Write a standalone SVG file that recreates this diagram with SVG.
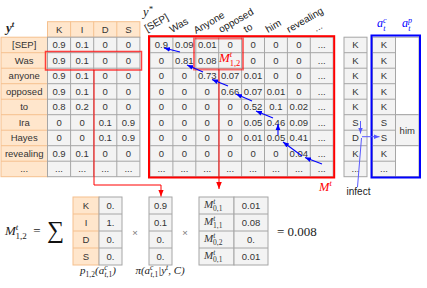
<svg xmlns="http://www.w3.org/2000/svg" width="427" height="288" viewBox="0 0 427 288">
<style>
.o{fill:#ffe6cc;stroke:#f5c08e;stroke-width:1}
.ol{fill:none;stroke:#f5c08e;stroke-width:1}
.g{fill:#f3f3f3;stroke:#a6a6a6;stroke-width:1}
.gl{fill:none;stroke:#a6a6a6;stroke-width:1}
.w{fill:#ffffff;stroke:#a6a6a6;stroke-width:1}
.t{font-family:"Liberation Sans",Arial,sans-serif;font-size:9.5px;fill:#333;text-anchor:middle}
.l{font-family:"Liberation Sans",Arial,sans-serif;font-size:10px;fill:#222}
.m{font-family:"Liberation Serif","Times New Roman",serif;font-style:italic;fill:#222}
.u{font-style:normal}
.rc{fill:none;stroke:#ff0000;stroke-width:1}
.bc{fill:none;stroke:#0000ff;stroke-width:1.1;marker-end:url(#ab)}
.lc{fill:none;stroke:#5a5aff;stroke-width:1}
</style>
<defs>
<marker id="ar" viewBox="0 0 10 10" refX="10" refY="5" markerWidth="7" markerHeight="7" markerUnits="userSpaceOnUse" orient="auto"><path d="M0,1L10,5L0,9z" fill="#ff0000"/></marker>
<marker id="ab" viewBox="0 0 10 10" refX="10" refY="5" markerWidth="6" markerHeight="6" markerUnits="userSpaceOnUse" orient="auto"><path d="M0,1L10,5L0,9z" fill="#0000ff"/></marker>
<marker id="al" viewBox="0 0 10 10" refX="10" refY="5" markerWidth="6" markerHeight="6" markerUnits="userSpaceOnUse" orient="auto"><path d="M0,1L10,5L0,9z" fill="#5a5aff"/></marker>
</defs>

<g id="yt-table">
<text class="m" x="6" y="32" font-size="13" font-weight="bold">y<tspan font-size="8.5" dy="-5">t</tspan></text>
<rect class="o" x="1" y="37.2" width="46.5" height="139.5"/>
<path class="ol" d="M1 52.7H47.5M1 68.2H47.5M1 83.7H47.5M1 99.2H47.5M1 114.7H47.5M1 130.2H47.5M1 145.7H47.5M1 161.2H47.5"/>
<rect class="o" x="47.5" y="21.7" width="92.4" height="15.5"/>
<path class="ol" d="M70.6 21.7V37.2M93.7 21.7V37.2M116.8 21.7V37.2"/>
<rect class="g" x="47.5" y="37.2" width="92.4" height="139.5"/>
<path class="gl" d="M47.5 52.7H139.9M47.5 68.2H139.9M47.5 83.7H139.9M47.5 99.2H139.9M47.5 114.7H139.9M47.5 130.2H139.9M47.5 145.7H139.9M47.5 161.2H139.9M70.6 37.2V176.7M93.7 37.2V176.7M116.8 37.2V176.7"/>
<text class="t" y="32.9" font-size="10"><tspan x="59.05">K</tspan><tspan x="82.15">I</tspan><tspan x="105.25">D</tspan><tspan x="128.35">S</tspan></text>
<text class="t" x="24.2" font-size="10"><tspan x="24.2" y="48.4">[SEP]</tspan><tspan x="24.2" y="63.9">Was</tspan><tspan x="24.2" y="79.4">anyone</tspan><tspan x="24.2" y="94.9">opposed</tspan><tspan x="24.2" y="110.4">to</tspan><tspan x="24.2" y="125.9">Ira</tspan><tspan x="24.2" y="141.4">Hayes</tspan><tspan x="24.2" y="156.9">revealing</tspan><tspan x="24.2" y="172.4">...</tspan></text>
<text class="t" y="48.4"><tspan x="59.05">0.9</tspan><tspan x="82.15">0.1</tspan><tspan x="105.25">0</tspan><tspan x="128.35">0</tspan></text>
<text class="t" y="63.9"><tspan x="59.05">0.9</tspan><tspan x="82.15">0.1</tspan><tspan x="105.25">0</tspan><tspan x="128.35">0</tspan></text>
<text class="t" y="79.4"><tspan x="59.05">0.9</tspan><tspan x="82.15">0.1</tspan><tspan x="105.25">0</tspan><tspan x="128.35">0</tspan></text>
<text class="t" y="94.9"><tspan x="59.05">0.9</tspan><tspan x="82.15">0.1</tspan><tspan x="105.25">0</tspan><tspan x="128.35">0</tspan></text>
<text class="t" y="110.4"><tspan x="59.05">0.8</tspan><tspan x="82.15">0.2</tspan><tspan x="105.25">0</tspan><tspan x="128.35">0</tspan></text>
<text class="t" y="125.9"><tspan x="59.05">0</tspan><tspan x="82.15">0</tspan><tspan x="105.25">0.1</tspan><tspan x="128.35">0.9</tspan></text>
<text class="t" y="141.4"><tspan x="59.05">0</tspan><tspan x="82.15">0</tspan><tspan x="105.25">0.1</tspan><tspan x="128.35">0.9</tspan></text>
<text class="t" y="156.9"><tspan x="59.05">0.9</tspan><tspan x="82.15">0.1</tspan><tspan x="105.25">0</tspan><tspan x="128.35">0</tspan></text>
<text class="t" y="172.4"><tspan x="59.05">...</tspan><tspan x="82.15">...</tspan><tspan x="105.25">...</tspan><tspan x="128.35">...</tspan></text>
<rect x="45.5" y="51.5" width="96" height="18.5" fill="none" stroke="#ff2020" stroke-width="1.5" opacity="0.85"/>
</g>

<g id="mt-matrix">
<text class="m" x="143" y="16" font-size="12.5">y<tspan font-size="8.5" dy="-4.5">*</tspan></text>
<g class="l">
<text transform="translate(147,32) rotate(-30)">[SEP]</text>
<text transform="translate(172,33) rotate(-30)">Was</text>
<text transform="translate(196,34) rotate(-30)">Anyone</text>
<text transform="translate(221,33) rotate(-30)">opposed</text>
<text transform="translate(246,33) rotate(-30)">to</text>
<text transform="translate(268,33) rotate(-30)">him</text>
<text transform="translate(289,33) rotate(-30)">revealing</text>
<text transform="translate(316,32) rotate(-30)">...</text>
</g>
<rect class="g" x="150" y="37.2" width="183.2" height="139.5"/>
<path class="gl" d="M150 52.7H333.2M150 68.2H333.2M150 83.7H333.2M150 99.2H333.2M150 114.7H333.2M150 130.2H333.2M150 145.7H333.2M150 161.2H333.2M172.9 37.2V176.7M195.8 37.2V176.7M218.7 37.2V176.7M241.6 37.2V176.7M264.5 37.2V176.7M287.4 37.2V176.7M310.3 37.2V176.7"/>
<text class="t" y="48.4"><tspan x="161.45">0.9</tspan><tspan x="184.35">0.09</tspan><tspan x="207.25">0.01</tspan><tspan x="230.15">0</tspan><tspan x="253.05">0</tspan><tspan x="275.95">0</tspan><tspan x="298.85">0</tspan><tspan x="321.75">...</tspan></text>
<text class="t" y="63.9"><tspan x="161.45">0</tspan><tspan x="184.35">0.81</tspan><tspan x="207.25">0.08</tspan><tspan x="253.05">0</tspan><tspan x="275.95">0</tspan><tspan x="298.85">0</tspan><tspan x="321.75">...</tspan></text>
<text class="t" y="79.4"><tspan x="161.45">0</tspan><tspan x="184.35">0</tspan><tspan x="207.25">0.73</tspan><tspan x="230.15">0.07</tspan><tspan x="253.05">0.01</tspan><tspan x="275.95">0</tspan><tspan x="298.85">0</tspan><tspan x="321.75">...</tspan></text>
<text class="t" y="94.9"><tspan x="161.45">0</tspan><tspan x="184.35">0</tspan><tspan x="207.25">0</tspan><tspan x="230.15">0.66</tspan><tspan x="253.05">0.07</tspan><tspan x="275.95">0.01</tspan><tspan x="298.85">0</tspan><tspan x="321.75">...</tspan></text>
<text class="t" y="110.4"><tspan x="161.45">0</tspan><tspan x="184.35">0</tspan><tspan x="207.25">0</tspan><tspan x="230.15">0</tspan><tspan x="253.05">0.52</tspan><tspan x="275.95">0.1</tspan><tspan x="298.85">0.02</tspan><tspan x="321.75">...</tspan></text>
<text class="t" y="125.9"><tspan x="161.45">0</tspan><tspan x="184.35">0</tspan><tspan x="207.25">0</tspan><tspan x="230.15">0</tspan><tspan x="253.05">0.05</tspan><tspan x="275.95">0.46</tspan><tspan x="298.85">0.09</tspan><tspan x="321.75">...</tspan></text>
<text class="t" y="141.4"><tspan x="161.45">0</tspan><tspan x="184.35">0</tspan><tspan x="207.25">0</tspan><tspan x="230.15">0</tspan><tspan x="253.05">0.01</tspan><tspan x="275.95">0.05</tspan><tspan x="298.85">0.41</tspan><tspan x="321.75">...</tspan></text>
<text class="t" y="156.9"><tspan x="161.45">0</tspan><tspan x="184.35">0</tspan><tspan x="207.25">0</tspan><tspan x="230.15">0</tspan><tspan x="253.05">0</tspan><tspan x="275.95">0</tspan><tspan x="298.85">0.04</tspan><tspan x="321.75">...</tspan></text>
<text class="t" y="172.4"><tspan x="161.45">...</tspan><tspan x="184.35">...</tspan><tspan x="207.25">...</tspan><tspan x="230.15">...</tspan><tspan x="253.05">...</tspan><tspan x="275.95">...</tspan><tspan x="298.85">...</tspan><tspan x="321.75">...</tspan></text>
<rect x="149" y="36.2" width="185.2" height="141.3" fill="none" stroke="#ff0000" stroke-width="2"/>
<rect x="194" y="38.5" width="49" height="31" fill="none" stroke="#ff0000" stroke-width="2" opacity="0.55"/>
<text class="m" x="219" y="62" font-size="13" fill="#ff0000" style="fill:#ff0000">M<tspan font-size="8.5" dy="-5.5">t</tspan><tspan class="u" font-size="8.5" dx="-2.5" dy="9">1,2</tspan></text>
<text class="m" x="319" y="191" font-size="12.5" style="fill:#ff0000">M<tspan font-size="8.5" dy="-5">t</tspan></text>
</g>

<g id="alignment-column">
<rect class="g" x="344" y="37.2" width="23" height="139.5"/>
<path class="gl" d="M344 52.7H367M344 68.2H367M344 83.7H367M344 99.2H367M344 114.7H367M344 130.2H367M344 145.7H367M344 161.2H367"/>
<text class="t" x="355.5"><tspan x="355.5" y="48.4">K</tspan><tspan x="355.5" y="63.9">K</tspan><tspan x="355.5" y="79.4">K</tspan><tspan x="355.5" y="94.9">K</tspan><tspan x="355.5" y="110.4">K</tspan><tspan x="355.5" y="125.9">S</tspan><tspan x="355.5" y="141.4">D</tspan><tspan x="355.5" y="156.9">K</tspan><tspan x="355.5" y="172.4">...</tspan></text>
<text class="l" x="358.5" y="195" text-anchor="middle" font-size="9.5">infect</text>
</g>

<g id="action-box">
<text class="m" x="377" y="27" font-size="12" style="fill:#0000ff">a<tspan font-size="8" dy="-4.5">c</tspan><tspan font-size="8" dx="-3.3" dy="8">t</tspan></text>
<text class="m" x="402" y="27" font-size="12" style="fill:#0000ff">a<tspan font-size="8" dy="-4.5">p</tspan><tspan font-size="8" dx="-3.8" dy="8">t</tspan></text>
<rect class="g" x="372.5" y="37.2" width="23" height="139.5"/>
<path class="gl" d="M372.5 52.7H395.5M372.5 68.2H395.5M372.5 83.7H395.5M372.5 99.2H395.5M372.5 114.7H395.5M372.5 130.2H395.5M372.5 145.7H395.5M372.5 161.2H395.5"/>
<rect class="w" x="395.5" y="37.2" width="23.5" height="77.5"/>
<rect class="g" x="395.5" y="114.7" width="23.5" height="31"/>
<rect class="w" x="395.5" y="145.7" width="23.5" height="31"/>
<text class="t"><tspan x="384" y="48.4">K</tspan><tspan x="384" y="63.9">K</tspan><tspan x="384" y="79.4">K</tspan><tspan x="384" y="94.9">K</tspan><tspan x="384" y="110.4">K</tspan><tspan x="384" y="125.9">S</tspan><tspan x="384" y="141.4">S</tspan><tspan x="384" y="156.9">K</tspan><tspan x="384" y="172.4">...</tspan></text>
<text class="t" x="407.25" y="133.8">him</text>
<rect x="371.5" y="35.5" width="48.5" height="142" fill="none" stroke="#0000ff" stroke-width="2"/>
</g>

<g id="formula-lhs">
<text class="m" x="5" y="235" font-size="13">M<tspan font-size="9" dy="-5.5">t</tspan><tspan class="u" font-size="9" dx="-2.8" dy="9">1,2</tspan></text>
<text class="m u" x="37" y="235" font-size="13" text-anchor="middle">=</text>
<text x="55.5" y="238" font-size="24" text-anchor="middle" font-family="Liberation Serif,serif" fill="#111">∑</text>
</g>

<g id="p-table">
<rect class="o" x="73" y="197" width="26" height="68"/>
<path class="ol" d="M73 214H99M73 231H99M73 248H99"/>
<rect class="g" x="99" y="197" width="23" height="68"/>
<path class="gl" d="M99 214H122M99 231H122M99 248H122"/>
<text class="t"><tspan x="86" y="209">K</tspan><tspan x="86" y="226">I</tspan><tspan x="86" y="243">D</tspan><tspan x="86" y="260">S</tspan></text>
<text class="t"><tspan x="110.5" y="209">0.</tspan><tspan x="110.5" y="226">1.</tspan><tspan x="110.5" y="243">0.</tspan><tspan x="110.5" y="260">0.</tspan></text>
<text class="m" x="98" y="274" font-size="11" text-anchor="middle">p<tspan class="u" font-size="7.5" dy="3">1,2</tspan><tspan dy="-3">(a</tspan><tspan font-size="7.5" dy="-4">c</tspan><tspan font-size="7.5" dx="-3" dy="7">t</tspan><tspan class="u" font-size="7.5">,1</tspan><tspan dy="-3">)</tspan></text>
</g>

<text class="t" x="135" y="236" font-size="11" style="fill:#777">×</text>

<g id="pi-table">
<rect class="g" x="149" y="197" width="23" height="68"/>
<path class="gl" d="M149 214H172M149 231H172M149 248H172"/>
<text class="t"><tspan x="160.5" y="209">0.9</tspan><tspan x="160.5" y="226">0.1</tspan><tspan x="160.5" y="243">0.</tspan><tspan x="160.5" y="260">0.</tspan></text>
<text class="m" x="160" y="274" font-size="11" text-anchor="middle">π(a<tspan font-size="7.5" dy="-4">c</tspan><tspan font-size="7.5" dx="-3" dy="7">t</tspan><tspan class="u" font-size="7.5">,1</tspan><tspan dy="-3">|y</tspan><tspan font-size="7.5" dy="-4">t</tspan><tspan dy="4">, C)</tspan></text>
</g>

<text class="t" x="185" y="236" font-size="11" style="fill:#777">×</text>

<g id="m-table">
<rect class="g" x="199" y="197" width="35" height="68"/>
<rect class="g" x="234" y="197" width="34" height="68"/>
<path class="gl" d="M199 214H268M199 231H268M199 248H268"/>
<text class="m" x="204" y="208" font-size="11" style="fill:#333">M<tspan font-size="7.5" dy="-4.5">t</tspan><tspan class="u" font-size="7.5" dx="-2.2" dy="7.5">0,1</tspan></text>
<text class="m" x="204" y="225" font-size="11" style="fill:#333">M<tspan font-size="7.5" dy="-4.5">t</tspan><tspan class="u" font-size="7.5" dx="-2.2" dy="7.5">1,1</tspan></text>
<text class="m" x="204" y="242" font-size="11" style="fill:#333">M<tspan font-size="7.5" dy="-4.5">t</tspan><tspan class="u" font-size="7.5" dx="-2.2" dy="7.5">0,2</tspan></text>
<text class="m" x="204" y="259" font-size="11" style="fill:#333">M<tspan font-size="7.5" dy="-4.5">t</tspan><tspan class="u" font-size="7.5" dx="-2.2" dy="7.5">0,1</tspan></text>
<text class="t" font-size="9"><tspan x="251" y="209">0.01</tspan><tspan x="251" y="226">0.08</tspan><tspan x="251" y="243">0.</tspan><tspan x="251" y="260">0.01</tspan></text>
</g>

<text class="m u" x="277" y="235.5" font-size="13">= 0.008</text>

<g id="connectors">
<path class="rc" d="M94 70V185H161V196.5" marker-end="url(#ar)"/>
<path class="rc" d="M219 69.5V189" marker-end="url(#ar)"/>
<path class="bc" d="M322 164L305 157.5"/>
<path class="bc" d="M302 156L283 142"/>
<path class="bc" d="M278 135L278 124"/>
<path class="bc" d="M273 118L256 111"/>
<path class="bc" d="M252 101L236 94"/>
<path class="bc" d="M228 86L212 79.5"/>
<path class="bc" d="M203 72L187 65"/>
<path class="bc" d="M180 52L164 48"/>
<path class="lc" d="M360.5 121V133.5" marker-end="url(#al)"/>
<path class="lc" d="M362 136.7H379.5" marker-end="url(#al)"/>
<path class="lc" d="M357.5 187L361.5 138"/>
</g>
</svg>
